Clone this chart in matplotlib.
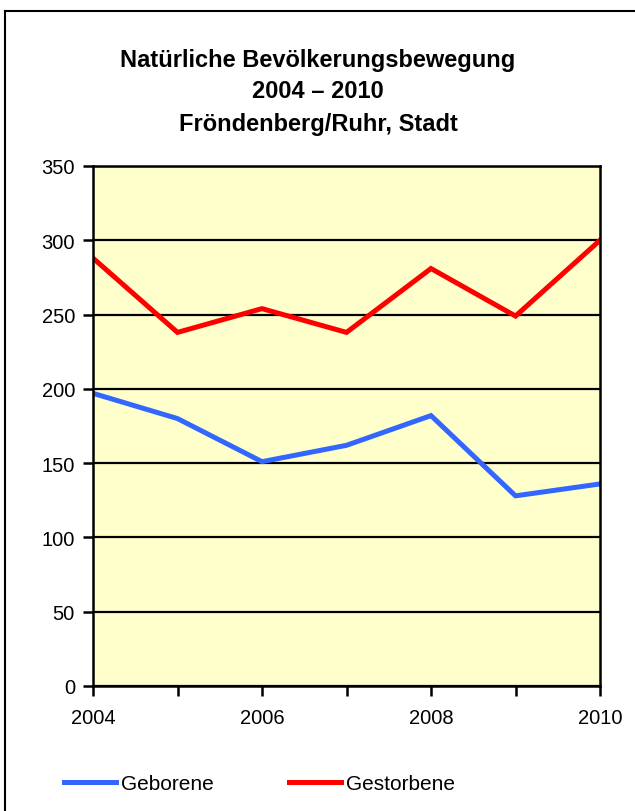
import matplotlib
matplotlib.use('Agg')
import matplotlib.pyplot as plt
from matplotlib.lines import Line2D

plt.rcParams['font.family'] = ['Liberation Sans', 'DejaVu Sans']

years = [2004, 2005, 2006, 2007, 2008, 2009, 2010]
geborene = [197, 180, 151, 162, 182, 128, 136]
gestorbene = [288, 238, 254, 238, 281, 249, 300]
x_labels = ['2004', '', '2006', '', '2008', '', '2010']
y_ticks = [0, 50, 100, 150, 200, 250, 300, 350]
title = 'Natürliche Bevölkerungsbewegung\n2004 – 2010\nFröndenberg/Ruhr, Stadt'

W, H = 635, 812
fig = plt.figure(figsize=(W / 100, H / 100), dpi=100)
ax = fig.add_axes([93 / W, 1 - 687 / H, (600 - 93) / W, (687 - 167) / H])
ax.set_facecolor('#FFFFCC')

ax.plot(years, geborene, color='#3366FF', lw=3.6, label='Geborene', solid_joinstyle='miter')
ax.plot(years, gestorbene, color='#FF0000', lw=3.6, label='Gestorbene', solid_joinstyle='miter')

ax.set_xlim(2004, 2010)
ax.set_ylim(0, 350)
ax.set_yticks(y_ticks)
ax.set_xticks(years)
ax.set_xticklabels(x_labels)
ax.yaxis.grid(True, color='black', lw=1.6)
ax.set_axisbelow(True)
for s in ax.spines.values():
    s.set_linewidth(1.8)
    s.set_color('black')
ax.tick_params(axis='both', direction='out', length=7, width=1.8, labelsize=14.5, colors='black')
ax.tick_params(axis='x', pad=9)
ax.tick_params(axis='y', pad=6)

fig.text(318 / W, 1 - 92 / H, title, ha='center', va='center', fontsize=17,
         fontweight='bold', linespacing=1.5)

fig.legend(loc='center left', bbox_to_anchor=(64 / W, 1 - 785 / H), ncol=2, frameon=False,
           fontsize=15, handlelength=2.5, handletextpad=0.25, columnspacing=3.6,
           borderaxespad=0, borderpad=0)

# outer frame (only top and left edge visible)
fig.add_artist(Line2D([5 / W, 1.0], [1 - 12 / H, 1 - 12 / H], color='black', lw=1.5,
                      transform=fig.transFigure))
fig.add_artist(Line2D([5 / W, 5 / W], [0.0, 1 - 12 / H], color='black', lw=1.5,
                      transform=fig.transFigure))

fig.savefig('out.png', dpi=100, facecolor='white')
